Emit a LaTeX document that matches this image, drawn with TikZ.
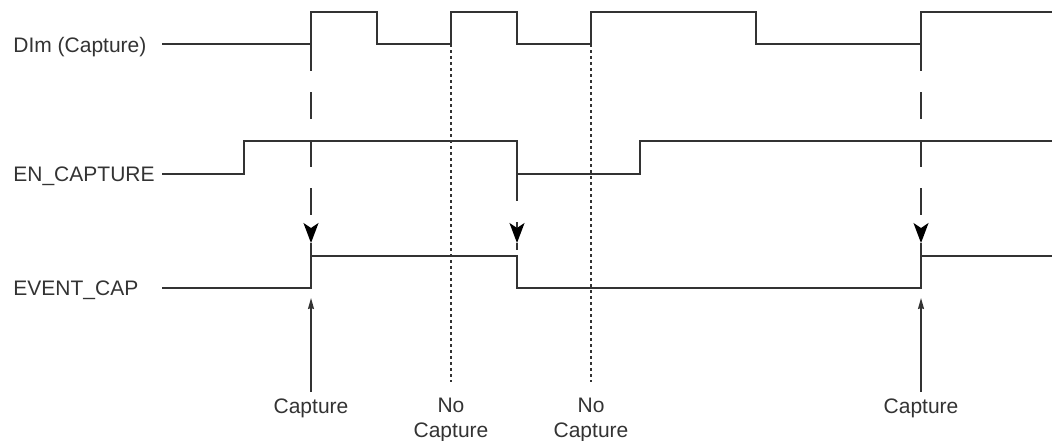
\documentclass[tikz,border=0pt]{standalone}
\usepackage{fontspec}
\setmainfont{Liberation Sans}
\usepackage{tikz}
\usetikzlibrary{arrows.meta}
\definecolor{ink}{HTML}{333333}
\tikzstyle{signame}=[anchor=base west, inner sep=0pt, text=ink,
                     font=\fontsize{10.5}{12.5}\selectfont]
\tikzstyle{event}=[anchor=north, inner sep=0pt, align=center, text=ink,
                   font=\fontsize{10.5}{12.5}\selectfont]
\tikzstyle{wave}=[draw=ink, line width=0.8pt]
\tikzstyle{trig}=[draw=ink, line width=0.8pt, dash pattern=on 13.5pt off 10.5pt,
                  -{Stealth[length=10pt,width=7.5pt,inset=2.5pt,color=black]}]
\tikzstyle{nocap}=[draw=ink, line width=1pt, dash pattern=on 1.5pt off 1.5pt]
\tikzstyle{pointer}=[draw=ink, line width=0.7pt, shorten <=3pt,
                     -{Stealth[length=5.5pt,width=3pt,inset=0.5pt]}]

\begin{document}
\begin{tikzpicture}[x=0.5pt,y=-0.5pt]
  \useasboundingbox (0,0) rectangle (1052,440);

  % Signal names on the left
  \node[signame] (dim) at (13,52) {DIm (Capture)};
  \node[signame] (en) at (13,181) {EN\_CAPTURE};
  \node[signame] (ev) at (13,295) {EVENT\_CAP};

  % Waveforms
  \draw[wave] (162,44) -- (311,44) |- (377,12) |- (451,44) |- (517,12)
              |- (591,44) |- (756,12) |- (921,44) |- (1052,12);
  \draw[wave] (162,174) -- (244,174) |- (517,141) |- (640,174) |- (1052,141);
  \draw[wave] (162,288) -- (311,288) |- (517,256) |- (921,288) |- (1052,256);

  % Points where the capture is triggered
  \coordinate (dimA) at (311,44);
  \coordinate (enB) at (517,174);
  \coordinate (dimC) at (921,44);
  \coordinate (tipA) at (311,243);
  \coordinate (tipB) at (517,243);
  \coordinate (tipC) at (921,243);
  \coordinate (evA) at (311,256);
  \coordinate (evB) at (517,250);
  \coordinate (evC) at (921,256);

  \draw[trig] (dimA) -- (tipA);
  \draw[trig] (enB) -- (tipB);
  \draw[trig] (dimC) -- (tipC);
  \draw[wave] (tipA) -- (evA);
  \draw[wave] (tipB) -- (evB);
  \draw[wave] (tipC) -- (evC);

  % Edges that do not capture
  \coordinate (dimN1) at (451,44);
  \coordinate (dimN2) at (591,44);
  \coordinate (endN1) at (451,382);
  \coordinate (endN2) at (591,382);
  \draw[nocap] (dimN1) -- (endN1);
  \draw[nocap] (dimN2) -- (endN2);

  % Labels at the bottom
  \node[event] (capA) at (311,398) {Capture};
  \node[event] (noA) at (451,398) {No\\Capture};
  \node[event] (noB) at (591,398) {No\\Capture};
  \node[event] (capB) at (921,398) {Capture};

  \coordinate (lowA) at (311,298);
  \coordinate (lowB) at (921,298);
  \draw[pointer] (capA) -- (lowA);
  \draw[pointer] (capB) -- (lowB);
\end{tikzpicture}
\end{document}
